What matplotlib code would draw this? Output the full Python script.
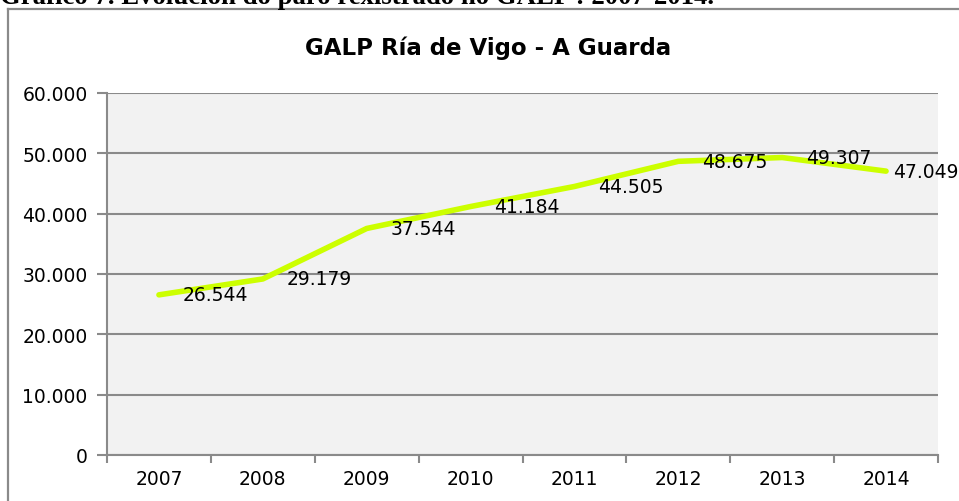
import matplotlib
matplotlib.use("Agg")
import matplotlib.pyplot as plt
from matplotlib.lines import Line2D

years = ["2007", "2008", "2009", "2010", "2011", "2012", "2013", "2014"]
values = [26544, 29179, 37544, 41184, 44505, 48675, 49307, 47049]
yticks = [0, 10000, 20000, 30000, 40000, 50000, 60000]
title = "GALP Ría de Vigo - A Guarda"
caption = "Gráfico 7. Evolución do paro rexistrado no GALP : 2007-2014."

def fmt(v):
    return f"{v:,}".replace(",", ".")

W, H = 959, 502
FONT = "DejaVu Sans"
fig = plt.figure(figsize=(W/100, H/100), dpi=100)
fig.patch.set_facecolor("white")

# outer chart frame (left and top edges visible)
fig.add_artist(Line2D([7.5/W, 7.5/W], [0, 1 - 10/H], transform=fig.transFigure, color="#8a8a8a", lw=1.6))
fig.add_artist(Line2D([7.5/W, 1], [1 - 10/H, 1 - 10/H], transform=fig.transFigure, color="#8a8a8a", lw=1.6))

fig.text(0.0, 1 - 3.5/H, caption, fontfamily="Liberation Serif", fontweight="bold",
         fontsize=19.3, va="baseline", ha="left")

ax = fig.add_axes([107/W, 1 - 456/H, (938-107)/W, (456-94)/H])
ax.set_facecolor("#f2f2f2")
x = list(range(len(years)))
ax.plot(x, values, color="#ccff00", lw=4, solid_joinstyle="round", solid_capstyle="round", zorder=3)
for i, (xi, v) in enumerate(zip(x, values)):
    dx = 17 if i < len(values) - 1 else 5
    ax.annotate(fmt(v), (xi, v), xytext=(dx, 0), textcoords="offset points",
                ha="left", va="center", fontsize=13.5, fontfamily=FONT, zorder=4,
                annotation_clip=False)

ax.set_xlim(-0.5, len(years) - 0.5)
ax.set_ylim(0, 60000)
ax.set_yticks(yticks)
ax.set_yticklabels([fmt(v) for v in yticks], fontsize=13.5, fontfamily=FONT)
ax.set_xticks(x)
ax.set_xticklabels(years, fontsize=13.5, fontfamily=FONT)
ax.tick_params(axis="x", length=0, pad=10)
ax.set_xticks([i - 0.5 for i in range(len(years) + 1)], minor=True)
ax.tick_params(axis="x", which="minor", length=6, width=1.5, color="#8a8a8a", direction="out")
ax.tick_params(axis="y", length=7, width=1.5, color="#8a8a8a", direction="out", pad=7)
ax.yaxis.grid(True, color="#8a8a8a", lw=1.5)
ax.set_axisbelow(True)
for s in ["top", "right"]:
    ax.spines[s].set_visible(False)
for s in ["left", "bottom"]:
    ax.spines[s].set_color("#8a8a8a")
    ax.spines[s].set_linewidth(1.5)

fig.text(488/W, 1 - 48/H, title, ha="center", va="center", fontsize=16.5,
         fontweight="bold", fontfamily=FONT)

fig.savefig("out.png", dpi=100)
